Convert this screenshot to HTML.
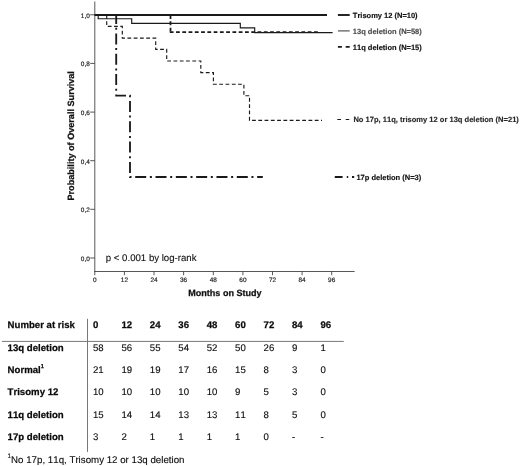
<!DOCTYPE html>
<html>
<head>
<meta charset="utf-8">
<title>Overall Survival</title>
<style>
html,body{margin:0;padding:0;background:#fff;}
body{width:520px;height:466px;overflow:hidden;}
svg{display:block;}
text{font-family:"Liberation Sans",Arial,Helvetica,sans-serif;font-kerning:none;text-rendering:geometricPrecision;}
.b{font-weight:bold;stroke:#111;stroke-width:0.25px;}
.tk{font-size:6.45px;fill:#2a2a2a;stroke:#2a2a2a;stroke-width:0.2px;}
.lg{font-size:7.5px;font-weight:bold;fill:#111;stroke:#111;stroke-width:0.15px;}
.tb{font-size:9.62px;fill:#0a0a0a;stroke:#111;stroke-width:0.12px;}
.tb.b{stroke-width:0.25px;}
</style>
</head>
<body>
<svg width="520" height="466" viewBox="0 0 520 466">
<rect x="0" y="0" width="520" height="466" fill="#fff"/>

<!-- axes -->
<g stroke="#3a3a3a" stroke-width="0.85" fill="none">
<line x1="94.8" y1="1.5" x2="94.8" y2="271.9"/>
<line x1="94.4" y1="271.5" x2="354.6" y2="271.5"/>
<!-- y ticks -->
<line x1="90.2" y1="14.8" x2="94.8" y2="14.8"/>
<line x1="90.2" y1="63.4" x2="94.8" y2="63.4"/>
<line x1="90.2" y1="112.1" x2="94.8" y2="112.1"/>
<line x1="90.2" y1="160.7" x2="94.8" y2="160.7"/>
<line x1="90.2" y1="209.3" x2="94.8" y2="209.3"/>
<line x1="90.2" y1="258" x2="94.8" y2="258"/>
<!-- x ticks -->
<line x1="94.8" y1="271.5" x2="94.8" y2="275.2"/>
<line x1="124.4" y1="271.5" x2="124.4" y2="275.2"/>
<line x1="154" y1="271.5" x2="154" y2="275.2"/>
<line x1="183.6" y1="271.5" x2="183.6" y2="275.2"/>
<line x1="213.3" y1="271.5" x2="213.3" y2="275.2"/>
<line x1="242.9" y1="271.5" x2="242.9" y2="275.2"/>
<line x1="272.5" y1="271.5" x2="272.5" y2="275.2"/>
<line x1="302.1" y1="271.5" x2="302.1" y2="275.2"/>
<line x1="331.7" y1="271.5" x2="331.7" y2="275.2"/>
</g>

<!-- y tick labels -->
<g class="tk" text-anchor="end">
<text x="89.8" y="17.8">1,0</text>
<text x="89.8" y="66.4">0,8</text>
<text x="89.8" y="115.1">0,6</text>
<text x="89.8" y="163.7">0,4</text>
<text x="89.8" y="212.3">0,2</text>
<text x="89.8" y="261.0">0,0</text>
</g>
<!-- x tick labels -->
<g class="tk" text-anchor="middle">
<text x="94.8" y="282.1">0</text>
<text x="124.4" y="282.1">12</text>
<text x="154" y="282.1">24</text>
<text x="183.6" y="282.1">36</text>
<text x="213.3" y="282.1">48</text>
<text x="242.9" y="282.1">60</text>
<text x="272.5" y="282.1">72</text>
<text x="302.1" y="282.1">84</text>
<text x="331.7" y="282.1">96</text>
</g>

<!-- axis titles -->
<text class="b" font-size="9.1" fill="#111" text-anchor="middle" transform="translate(74.2,135.8) rotate(-90)">Probability of Overall Survival</text>
<text class="b" font-size="9.05" fill="#111" text-anchor="middle" x="224.9" y="295.8">Months on Study</text>

<!-- p-value -->
<text font-size="9.63" fill="#111" stroke="#111" stroke-width="0.12" x="105.8" y="261.2">p &lt; 0.001 by log-rank</text>

<!-- curves -->
<g fill="none" stroke-linejoin="miter" stroke-linecap="butt">
<!-- Normal (no 17p, 11q, trisomy 12 or 13q) -->
<path stroke="#1a1a1a" stroke-width="1.15" stroke-dasharray="3.8 2.47" stroke-dashoffset="0.5" d="M94.8 14.8H106.7V26.4H122.3V38.1H155.7V49.3H166.7V61H200.8V72.6H213.4V84.2H243.9V95.7H249.5V120.4H322"/>
<!-- 11q -->
<g stroke="#1a1a1a" stroke-width="1.75" stroke-dasharray="3.8 2.47">
<path d="M170.5 15.1V32.2"/>
<path d="M169.75 32.2H319.2"/>
</g>
<!-- 13q -->
<path stroke="#1a1a1a" stroke-width="1.15" d="M94.8 14.8H98.2V18.7H131.7V23.3H240.3V27.8H254.7V32.6H332.6"/>
<!-- 17p -->
<path stroke="#1a1a1a" stroke-width="1.85" stroke-dasharray="11 3.66 2 3.66" stroke-dashoffset="0.6" d="M94.8 14.8H116.2V95.6H130V177H262.8"/>
<!-- Trisomy 12 -->
<path stroke="#1a1a1a" stroke-width="1.9" d="M94.8 15H327"/>
</g>

<!-- legend -->
<g fill="none">
<line x1="337.9" y1="15" x2="349.7" y2="15" stroke="#1a1a1a" stroke-width="1.9"/>
<line x1="337.9" y1="30.9" x2="349.7" y2="30.9" stroke="#4d4d4d" stroke-width="1.15"/>
<line x1="337.9" y1="46.9" x2="349.7" y2="46.9" stroke="#1a1a1a" stroke-width="1.75" stroke-dasharray="4 3.8"/>
<line x1="337.3" y1="119.5" x2="349.3" y2="119.5" stroke="#1a1a1a" stroke-width="1.15" stroke-dasharray="3.7 4.7"/>
<line x1="334.8" y1="177" x2="354.2" y2="177" stroke="#1a1a1a" stroke-width="1.85" stroke-dasharray="7.8 4.2 1.4 3.8 2.2 10"/>
</g>
<text class="lg" x="352.8" y="18.1">Trisomy 12 (N=10)</text>
<text class="lg" x="352.8" y="34" style="fill:#4d4d4d;stroke:#4d4d4d">13q deletion (N=58)</text>
<text class="lg" x="352.8" y="49.7">11q deletion (N=15)</text>
<text class="lg" x="353.4" y="122.3" style="fill:#2a2a2a;stroke:#2a2a2a;font-size:7.55px">No 17p, 11q, trisomy 12 or 13q deletion (N=21)</text>
<text class="lg" x="356.4" y="179.6">17p deletion (N=3)</text>

<!-- table -->
<g stroke="#777" stroke-width="1" fill="none">
<line x1="2" y1="341.4" x2="343.8" y2="341.4"/>
<line x1="87.5" y1="318.8" x2="87.5" y2="451.9"/>
</g>
<g class="tb b">
<text x="7.6" y="327.6">Number at risk</text>
<text x="93" y="327.6">0</text>
<text x="121.4" y="327.6">12</text>
<text x="149.8" y="327.6">24</text>
<text x="178.3" y="327.6">36</text>
<text x="206.7" y="327.6">48</text>
<text x="235.1" y="327.6">60</text>
<text x="263.6" y="327.6">72</text>
<text x="292" y="327.6">84</text>
<text x="320.4" y="327.6">96</text>
<text x="7.6" y="350.6">13q deletion</text>
<text x="7.6" y="372.9">Normal<tspan font-size="5.7" dy="-5.2" dx="0.1">1</tspan></text>
<text x="7.6" y="395.2">Trisomy 12</text>
<text x="7.6" y="417.5">11q deletion</text>
<text x="7.6" y="439.8">17p deletion</text>
</g>
<g class="tb">
<text y="350.6"><tspan x="93">58</tspan><tspan x="121.4">56</tspan><tspan x="149.8">55</tspan><tspan x="178.3">54</tspan><tspan x="206.7">52</tspan><tspan x="235.1">50</tspan><tspan x="263.6">26</tspan><tspan x="292">9</tspan><tspan x="320.4">1</tspan></text>
<text y="372.9"><tspan x="93">21</tspan><tspan x="121.4">19</tspan><tspan x="149.8">19</tspan><tspan x="178.3">17</tspan><tspan x="206.7">16</tspan><tspan x="235.1">15</tspan><tspan x="263.6">8</tspan><tspan x="292">3</tspan><tspan x="320.4">0</tspan></text>
<text y="395.2"><tspan x="93">10</tspan><tspan x="121.4">10</tspan><tspan x="149.8">10</tspan><tspan x="178.3">10</tspan><tspan x="206.7">10</tspan><tspan x="235.1">9</tspan><tspan x="263.6">5</tspan><tspan x="292">3</tspan><tspan x="320.4">0</tspan></text>
<text y="417.5"><tspan x="93">15</tspan><tspan x="121.4">14</tspan><tspan x="149.8">14</tspan><tspan x="178.3">13</tspan><tspan x="206.7">13</tspan><tspan x="235.1">11</tspan><tspan x="263.6">8</tspan><tspan x="292">5</tspan><tspan x="320.4">0</tspan></text>
<text y="439.8"><tspan x="93">3</tspan><tspan x="121.4">2</tspan><tspan x="149.8">1</tspan><tspan x="178.3">1</tspan><tspan x="206.7">1</tspan><tspan x="235.1">1</tspan><tspan x="263.6">0</tspan><tspan x="292">-</tspan><tspan x="320.4">-</tspan></text>
<text x="7.5" y="458.1" font-size="6.4">1</text>
<text x="11.1" y="462.5" style="font-size:9.72px">No 17p, 11q, Trisomy 12 or 13q deletion</text>
</g>
</svg>
</body>
</html>
